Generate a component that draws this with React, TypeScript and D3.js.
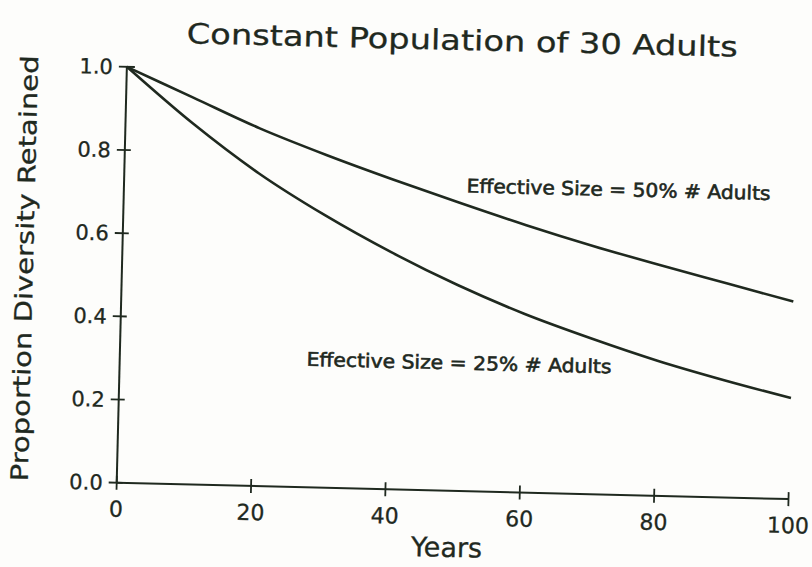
import { useEffect, useRef } from "react";
import * as d3 from "d3";

// values (proportion of diversity retained)
const years = [0, 10, 20, 30, 40, 50, 60, 70, 80, 90, 100];
const half = [1.0, 0.93, 0.86, 0.8, 0.745, 0.693, 0.643, 0.597, 0.555, 0.515, 0.475];
const quarter = [1.0, 0.868, 0.752, 0.655, 0.57, 0.495, 0.43, 0.375, 0.325, 0.282, 0.243];
const xTicks = [0, 20, 40, 60, 80, 100];
const yTicks = [0, 0.2, 0.4, 0.6, 0.8, 1.0];
const curveLabels = [
  { text: "Effective Size = 50% # Adults", year: 73.6, value: 0.718, len: 304 },
  { text: "Effective Size = 25% # Adults", year: 50.5, value: 0.292, len: 305 },
];

const INK = "#1f291f";
const FONT = "'DejaVu Sans', sans-serif";

export default function App() {
  const svgRef = useRef<SVGSVGElement | null>(null);

  useEffect(() => {
    if (!svgRef.current) return;
    const W = 812, H = 567;
    const plotW = 672, plotH = 416;

    const svg = d3.select(svgRef.current).attr("width", W).attr("height", H);
    svg.selectAll("*").remove();
    svg.append("rect").attr("width", W).attr("height", H).attr("fill", "#fdfdfb");

    // the scan is tilted a little, so the whole figure is rotated about the origin
    const g = svg.append("g").attr("transform", "translate(116.7,482.7) rotate(1.4)");

    const x = d3.scaleLinear().domain([0, 100]).range([0, plotW]);
    const y = d3.scaleLinear().domain([0, 1]).range([0, -plotH]);

    // axes
    g.append("line").attr("x1", x(0)).attr("x2", x(100)).attr("y1", 0).attr("y2", 0)
      .attr("stroke", INK).attr("stroke-width", 2);
    g.append("line").attr("x1", 0).attr("x2", 0).attr("y1", y(0)).attr("y2", y(1))
      .attr("stroke", INK).attr("stroke-width", 2);

    xTicks.forEach(t => {
      g.append("line").attr("x1", x(t)).attr("x2", x(t)).attr("y1", -7).attr("y2", 7)
        .attr("stroke", INK).attr("stroke-width", 1.8);
      g.append("text").attr("x", x(t)).attr("y", 34).attr("text-anchor", "middle")
        .attr("fill", INK).attr("stroke", INK).attr("stroke-width", 0.3)
        .style("font-family", FONT).style("font-size", "22px")
        .text(String(t));
    });

    yTicks.forEach(v => {
      g.append("line").attr("x1", -8).attr("x2", v === 1 ? 8 : 6).attr("y1", y(v)).attr("y2", y(v))
        .attr("stroke", INK).attr("stroke-width", 1.8);
      g.append("text").attr("x", -14).attr("y", y(v)).attr("dy", "0.36em").attr("text-anchor", "end")
        .attr("fill", INK).attr("stroke", INK).attr("stroke-width", 0.3)
        .style("font-family", FONT).style("font-size", "21px")
        .text(v.toFixed(1));
    });

    // curves
    const line = d3.line<number>()
      .x((_, i) => x(years[i]))
      .y(d => y(d))
      .curve(d3.curveMonotoneX);

    [half, quarter].forEach(s => {
      g.append("path").attr("d", line(s) as string).attr("fill", "none")
        .attr("stroke", INK).attr("stroke-width", 2.6).attr("stroke-linejoin", "round");
    });

    curveLabels.forEach(l => {
      g.append("text").attr("x", x(l.year)).attr("y", y(l.value)).attr("text-anchor", "middle")
        .attr("fill", INK).attr("stroke", INK).attr("stroke-width", 0.6)
        .style("font-family", FONT).style("font-size", "19px")
        .attr("textLength", l.len).attr("lengthAdjust", "spacingAndGlyphs")
        .text(l.text);
    });

    // title and axis titles
    g.append("text").attr("x", x(49.8)).attr("y", -441).attr("text-anchor", "middle")
      .attr("fill", INK).attr("stroke", INK).attr("stroke-width", 0.3)
      .style("font-family", FONT).style("font-size", "28px")
      .attr("textLength", 551).attr("lengthAdjust", "spacingAndGlyphs")
      .text("Constant Population of 30 Adults");

    g.append("text").attr("x", x(49.3)).attr("y", 66).attr("text-anchor", "middle")
      .attr("fill", INK).attr("stroke", INK).attr("stroke-width", 0.3)
      .style("font-family", FONT).style("font-size", "27px")
      .text("Years");

    g.append("text").attr("transform", "translate(-89,-212) rotate(-90)").attr("text-anchor", "middle")
      .attr("fill", INK).attr("stroke", INK).attr("stroke-width", 0.3)
      .style("font-family", FONT).style("font-size", "24px")
      .attr("textLength", 426).attr("lengthAdjust", "spacingAndGlyphs")
      .text("Proportion Diversity Retained");
  }, []);

  return (
    <div style={{ position: "absolute", left: 0, top: 0 }}>
      <svg ref={svgRef} style={{ display: "block" }}></svg>
    </div>
  );
}
